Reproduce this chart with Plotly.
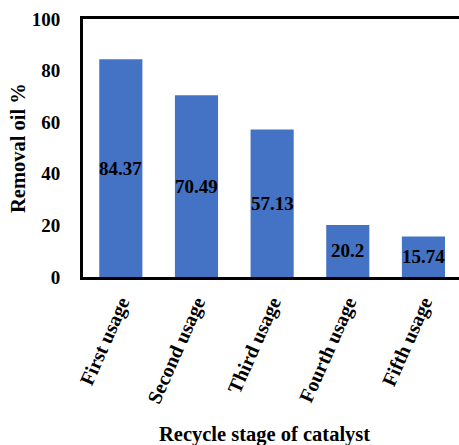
import plotly.graph_objects as go

# Oil removal efficiency over successive catalyst reuse cycles
stages = ["First usage", "Second usage", "Third usage", "Fourth usage", "Fifth usage"]
removal = [84.37, 70.49, 57.13, 20.2, 15.74]
y_ticks = [0, 20, 40, 60, 80, 100]

FONT = "Liberation Serif, Times New Roman, serif"
BLUE = "#4472C4"

fig = go.Figure(
    go.Bar(
        x=stages,
        y=removal,
        marker=dict(color=BLUE, line=dict(width=0)),
        width=0.57,
        hoverinfo="x+y",
    )
)

# value labels centred inside each bar
for s, v in zip(stages, removal):
    fig.add_annotation(
        x=s, y=v / 2, text=f"{v:g}", showarrow=False,
        font=dict(family=FONT, size=19, color="black", weight="bold"),
        xanchor="center", yanchor="middle",
    )

# axis titles
fig.add_annotation(
    xref="paper", yref="paper", x=-0.173, y=0.5, text="Removal oil %",
    textangle=-90, showarrow=False, xanchor="center", yanchor="middle",
    font=dict(family=FONT, size=20.5, color="black", weight="bold"),
)
fig.add_annotation(
    xref="paper", yref="paper", x=0.484, y=-0.612, text="Recycle stage of catalyst",
    showarrow=False, xanchor="center", yanchor="middle",
    font=dict(family=FONT, size=20.5, color="black", weight="bold"),
)

fig.update_layout(
    width=459, height=445,
    margin=dict(l=83, r=0, t=19, b=168),
    paper_bgcolor="white", plot_bgcolor="white",
    showlegend=False,
    font=dict(family=FONT, color="black"),
)
fig.update_xaxes(
    range=[-0.5, 4.47],
    showline=True, linewidth=3, linecolor="black", mirror=True,
    showgrid=False, zeroline=False, ticks="",
    tickangle=-66, ticklabelstandoff=3,
    tickfont=dict(family=FONT, size=20, color="black", weight="bold"),
)
fig.update_yaxes(
    range=[0, 100], tickvals=y_ticks,
    showline=True, linewidth=3, linecolor="black", mirror=False,
    showgrid=False, zeroline=False, ticks="",
    ticklabelstandoff=16,
    tickfont=dict(family=FONT, size=19, color="black", weight="bold"),
)

fig.write_html("out.html")
